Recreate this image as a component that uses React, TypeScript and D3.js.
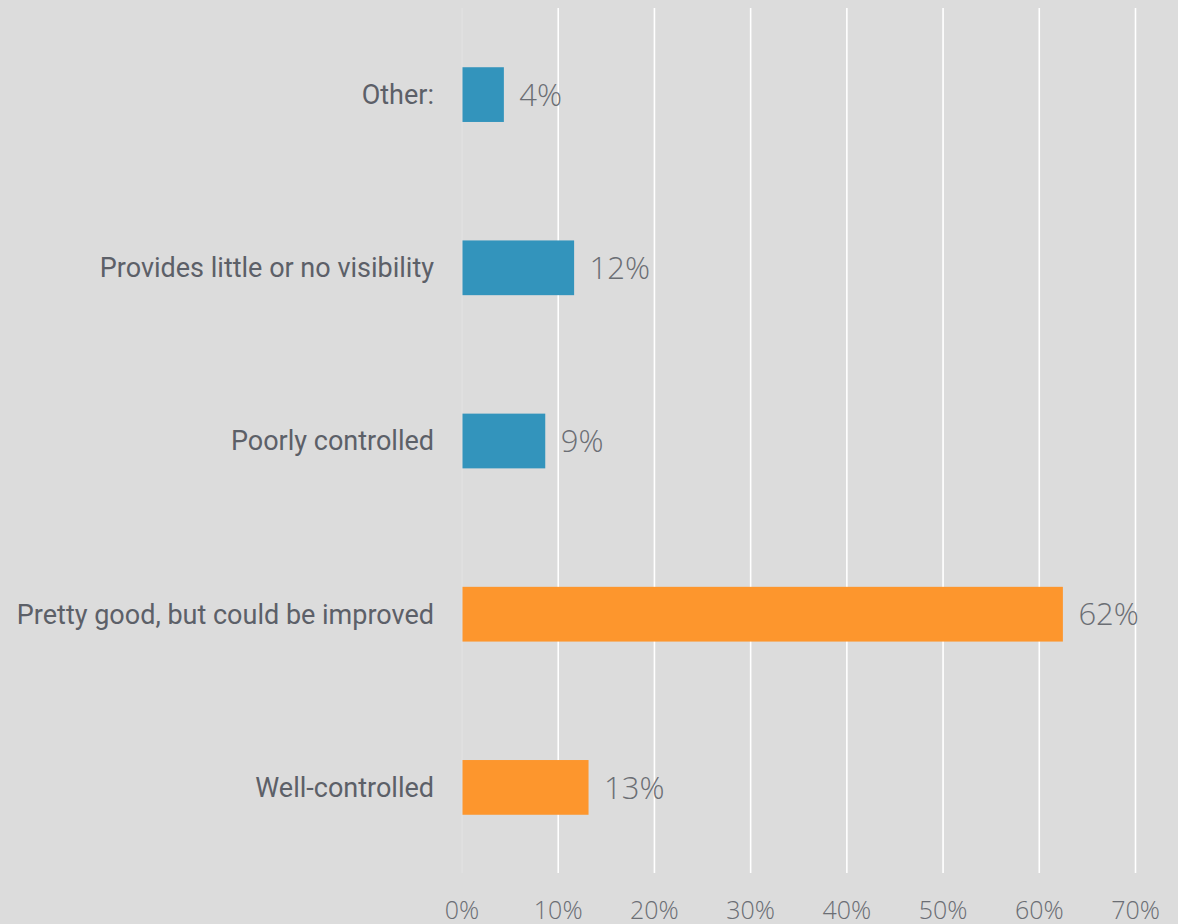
import React from "react";
import * as d3 from "d3";

const categories = [
  "Other:",
  "Provides little or no visibility",
  "Poorly controlled",
  "Pretty good, but could be improved",
  "Well-controlled",
];
const values = [4.3, 11.6, 8.6, 62.4, 13.1];
const valueLabels = ["4%", "12%", "9%", "62%", "13%"];
const barColors = ["#3394bc", "#3394bc", "#3394bc", "#fd962d", "#fd962d"];
const ticks = [0, 10, 20, 30, 40, 50, 60, 70];

const W = 1178;
const H = 924;

export default function App() {
  const x = d3.scaleLinear().domain([0, 70]).range([462, 1135.5]);
  const y = d3
    .scaleBand<string>()
    .domain(categories)
    .range([8, 874])
    .paddingInner(0.684)
    .paddingOuter(0.342);

  return (
    <svg
      width={W}
      height={H}
      style={{ position: "absolute", left: 0, top: 0, display: "block" }}
    >
      <rect x={0} y={0} width={W} height={H} fill="#dcdcdc" />
      {ticks.map((t) => (
        <line
          key={"g" + t}
          x1={x(t)}
          x2={x(t)}
          y1={8}
          y2={873}
          stroke={t === 0 ? "#e3e3e3" : "#ffffff"}
          strokeWidth={t === 0 ? 1 : 1.6}
        />
      ))}
      {ticks.map((t) => (
        <text
          key={"t" + t}
          x={x(t)}
          y={919}
          textAnchor="middle"
          fontFamily="'Open Sans', sans-serif"
          fontWeight={300}
          fontSize={25}
          fill="#6b6e74"
        >
          {t + "%"}
        </text>
      ))}
      {categories.map((c, i) => {
        const by = y(c)!;
        const bh = y.bandwidth();
        const cy = by + bh / 2;
        return (
          <g key={c}>
            <rect
              x={x(0) + 0.5}
              y={by}
              width={x(values[i]) - x(0)}
              height={bh}
              fill={barColors[i]}
            />
            <text
              x={434}
              y={cy}
              dy="0.35em"
              textAnchor="end"
              fontFamily="Roboto, sans-serif"
              fontSize={27}
              fill="#5c6068"
            >
              {c}
            </text>
            <text
              x={x(values[i]) + 16}
              y={cy}
              dy="0.36em"
              fontFamily="'Open Sans', sans-serif"
              fontWeight={300}
              fontSize={31}
              fill="#6b6e74"
            >
              {valueLabels[i]}
            </text>
          </g>
        );
      })}
    </svg>
  );
}
